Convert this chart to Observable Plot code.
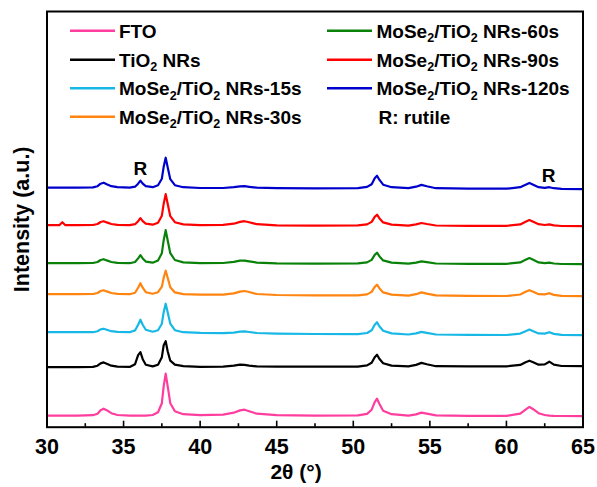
<!DOCTYPE html>
<html>
<head>
<meta charset="utf-8">
<script src="https://cdn.jsdelivr.net/npm/d3@7"></script>
<script src="https://cdn.jsdelivr.net/npm/@observablehq/plot@0.6"></script>
<style>
  html, body { margin: 0; padding: 0; background: white; }
  #chart { width: 597px; height: 487px; }
</style>
</head>
<body>
<div id="chart"></div>
<script>
// 2θ sample positions
const twoTheta = [30, 30.8, 31.0, 31.2, 32, 33, 33.3, 33.5, 33.7, 33.9, 34.2, 34.6, 35.4, 35.75, 35.95, 36.1, 36.25, 36.45, 36.9, 37.25, 37.5, 37.62, 37.75, 37.88, 38.05, 38.35, 38.9, 40, 41.5, 42.2, 42.6, 42.9, 43.2, 43.7, 45, 47.5, 50.3, 50.9, 51.2, 51.4, 51.55, 51.7, 51.95, 52.5, 53.6, 54.1, 54.45, 54.8, 55.4, 57.5, 60, 60.9, 61.25, 61.5, 61.75, 62.1, 62.5, 62.8, 63.1, 63.6, 65];

// intensities above each trace's baseline (a.u.)
const FTO = [0.5,0.5,0.5,0.5,0.5,1,2.5,6,7.5,6,3,1.2,0.5,0.5,0.5,0.5,0.5,0.6,1.2,4,13,30,42.5,30,13,5,2,1,1.5,3.5,5.8,6.5,5,2.5,1,0.5,0.8,2.3,6.5,14,17.5,12.5,5.5,2,0.5,1.8,3.6,2.6,0.8,0.3,0.3,2.5,6.5,9.3,7,3,1.2,0.6,0.3,0.2,0];
const TiO2NRs = [0,0,0,0,0,0.3,1.5,3.8,4.8,3.5,1.5,0.5,0.3,3,12,15,8,2.5,0.8,2.5,10,22,26,16,6.5,2.5,1,0.3,0.5,1.5,2.6,2.3,1.5,0.8,0.5,0.5,0.6,1.8,4.5,10,12.5,8.5,4,1.6,0.8,2.3,4.3,3,1,0.8,0.8,2.3,5,6.5,5,2.5,2.8,5.5,2.5,1.2,1];
const NRs15s = [3,3,3,3,3,3,4,5.8,6.5,5.5,4,3.3,3,4.8,10.5,15.5,10.5,5.5,3.5,5,11.5,23,31.5,23,11.5,5,3,2.3,2,2.6,3.6,3.8,3.2,2.2,1.6,1.2,1,2.2,5,10.5,13,9,4.5,1.8,0.7,1.8,3.3,2.3,0.7,0.3,0.2,1.6,4,5.6,4,1.8,1.6,3,1.3,0.3,0];
const NRs30s = [2,2,2,2,2,2.2,3.2,5.2,6,4.8,3.2,2.4,2,3.5,8.5,13,8.5,4,2.5,4,9.5,18.5,25.5,18.5,9,3.8,2,1.5,1.6,2.8,4.6,5.2,4.2,2.2,1.2,0.8,0.8,1.8,4.3,9.3,11.5,8,3.8,1.6,0.6,2,3.8,2.6,0.8,0.3,0.2,1.7,4.4,6,4.4,2,1.8,3,1.3,0.3,0];
const NRs60s = [1,1,1,1,1,1.2,2.2,4.2,5,3.8,2.2,1.4,1,2.2,5.8,9,5.8,2.6,1.5,3.6,11,24,34,24,11,4.2,1.8,1,1.2,2.3,3.5,3.6,2.8,1.6,0.8,0.5,0.8,1.8,4.3,9.3,11.5,8,3.8,1.6,0.5,1.6,2.8,2,0.7,0.3,0.3,1.8,4.4,6.2,4.4,1.8,1,1.6,0.7,0.2,0];
const NRs90s = [1,1,4,1,1,1.2,2.2,4.2,5,3.8,2.2,1.4,1,2,5,8,5,2.5,1.5,3.5,10.5,22.5,32,22.5,10,4,1.8,1,1.3,2.5,4.3,5,4,2,0.8,0.5,0.8,1.8,4.3,9.3,11.5,8,3.8,1.6,0.5,1.8,3.2,2.2,0.7,0.3,0.3,1.8,4.5,6.2,4.5,2,1.2,1.8,0.8,0.2,0];
const NRs120s = [1.5,1.5,1.5,1.5,1.5,1.8,3,5.5,6.5,5,3,2,1.5,2.5,5.5,8.5,5.5,3,2,4,10.5,22.5,31.5,22,10,4,2,1.2,1.2,2,2.8,3,2.4,1.5,1,0.8,1,2.3,5,11,13.5,9.5,4.5,2,1,2.5,4.3,3,1,0.5,0.5,2,4.5,6.3,4.5,2,1.3,2,1,0.3,0];

const seriesNames = ["FTO", "TiO_2 NRs", "MoSe_2/TiO_2 NRs-15s", "MoSe_2/TiO_2 NRs-30s", "MoSe_2/TiO_2 NRs-60s", "MoSe_2/TiO_2 NRs-90s", "MoSe_2/TiO_2 NRs-120s"];
const seriesValues = [FTO, TiO2NRs, NRs15s, NRs30s, NRs60s, NRs90s, NRs120s];
const offsets = [11, 60, 92, 131, 163, 201, 238];
const colors = ["#ff3d9e", "#000000", "#18b8e6", "#ff8410", "#0a820a", "#ff0000", "#0000cc"];

const majorTicks = [30, 35, 40, 45, 50, 55, 60, 65];
const minorTicks = [32.5, 37.5, 42.5, 47.5, 52.5, 57.5, 62.5];
const rutile = [{x: 36.1, y: 258.5}, {x: 62.75, y: 251}];

const font = "'Liberation Sans', Arial, Helvetica, sans-serif";

const lineMarks = seriesValues.map((vals, i) =>
  Plot.line(vals.map((v, j) => ({x: twoTheta[j], y: offsets[i] + v})),
    {x: "x", y: "y", stroke: colors[i], strokeWidth: 2.2, strokeLinejoin: "round"})
);

const svg = Plot.plot({
  width: 597,
  height: 487,
  marginLeft: 46.5,
  marginRight: 14.5,
  marginTop: 11,
  marginBottom: 60.3,
  x: {domain: [30, 65], axis: null},
  y: {domain: [0, 415.7], axis: null},
  style: {fontFamily: font, background: "white", color: "black"},
  marks: [
    ...lineMarks,
    Plot.ruleX(majorTicks, {x: d => d, y1: 0, y2: 6, stroke: "black", strokeWidth: 1.6}),
    Plot.ruleX(minorTicks, {x: d => d, y1: 0, y2: 3.5, stroke: "black", strokeWidth: 1.6}),
    Plot.axisX(majorTicks, {tickSize: 0, tickPadding: 12, fontSize: 21.5, fontWeight: "bold", label: null, fill: "black"}),
    Plot.text(["2θ (°)"], {frameAnchor: "bottom", textAnchor: "middle", lineAnchor: "middle", dx: -19, dy: 45, fontSize: 21, fontWeight: "bold", fill: "black"}),
    Plot.text(["Intensity (a.u.)"], {frameAnchor: "left", textAnchor: "middle", lineAnchor: "middle", rotate: -90, dx: -25, fontSize: 21.5, fontWeight: "bold", fill: "black"}),
    Plot.text(rutile, {x: "x", y: "y", text: () => "R", fontSize: 19, fontWeight: "bold", fill: "black"}),
    Plot.frame({stroke: "black", strokeWidth: 2})
  ]
});

// legend (inside the frame, two columns)
const legendItems = [
  {i: 0, col: 0, row: 0}, {i: 1, col: 0, row: 1}, {i: 2, col: 0, row: 2}, {i: 3, col: 0, row: 3},
  {i: 4, col: 1, row: 0}, {i: 5, col: 1, row: 1}, {i: 6, col: 1, row: 2}
];
const rowY = [30.7, 59.7, 88.2, 116.7];
const colX = [{x1: 70, x2: 115, tx: 119}, {x1: 327, x2: 372, tx: 376.5}];
const g = d3.select(svg).append("g")
  .attr("font-family", font).attr("font-weight", "bold").attr("font-size", 19)
  .attr("text-anchor", "start");

function addLabel(t, label) {
  const parts = label.split(/_(\d)/);
  let shifted = false;
  parts.forEach((p, k) => {
    if (!p.length) return;
    if (k % 2 === 1) {
      t.append("tspan").attr("font-size", 12.5).attr("dy", 4.5).text(p);
      shifted = true;
    } else {
      const s = t.append("tspan").text(p);
      if (shifted) { s.attr("dy", -4.5); shifted = false; }
    }
  });
}

legendItems.forEach(({i, col, row}) => {
  const c = colX[col], y = rowY[row];
  g.append("line").attr("x1", c.x1).attr("x2", c.x2).attr("y1", y).attr("y2", y)
    .attr("stroke", colors[i]).attr("stroke-width", 2.6);
  const t = g.append("text").attr("x", c.tx).attr("y", y + 6.8).attr("fill", "black");
  addLabel(t, seriesNames[i]);
});
g.append("text").attr("x", colX[1].tx + 2).attr("y", rowY[3] + 6.8).attr("fill", "black").text("R: rutile");

document.getElementById("chart").appendChild(svg);
</script>
</body>
</html>
